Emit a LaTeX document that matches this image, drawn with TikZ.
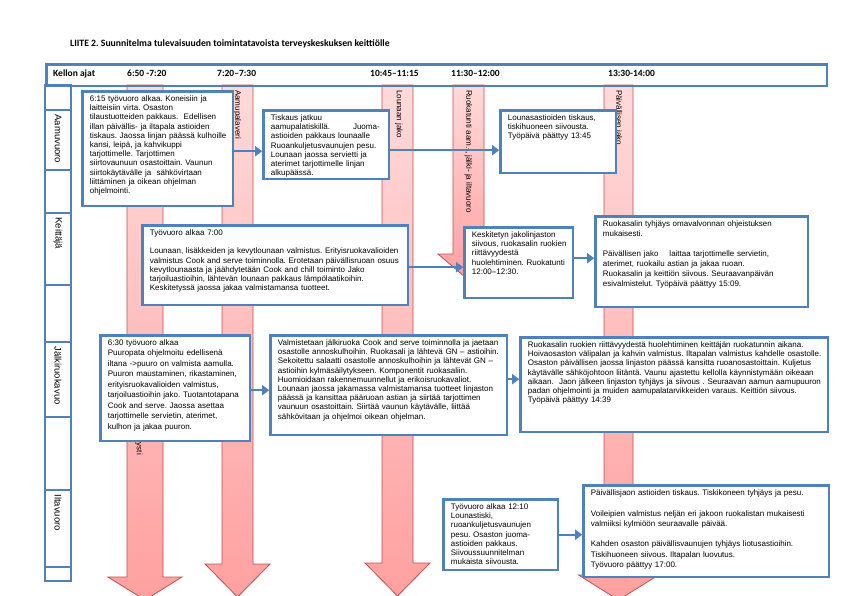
\documentclass[tikz,border=0pt]{standalone}
\usepackage{fontspec}
\setmainfont{Liberation Sans}
\newfontfamily\calibri{Carlito}
\usetikzlibrary{arrows.meta}
\definecolor{boxblue}{RGB}{79,129,189}
\definecolor{arrowred}{RGB}{192,80,77}
\definecolor{pinktop}{RGB}{255,218,218}
\definecolor{pinkbot}{RGB}{255,160,160}
\frenchspacing

\begin{document}
\begin{tikzpicture}[x=1pt, y=-1pt,
    box/.style={draw=boxblue, line width=2.4pt, fill=white, anchor=north west, inner xsep=7.5pt, inner ysep=4pt,
        text height=6pt, font=\fontsize{8}{9.2}\selectfont, execute at begin node={\rightskip=0pt minus 40pt}},
    lane/.style={draw=boxblue, line width=2.4pt, rotate=-90, minimum height=25.6pt, inner xsep=4.5pt, inner ysep=0pt,
        font=\fontsize{9.5}{11}\selectfont},
    colarrow/.style={draw=arrowred, line width=0.8pt, top color=pinktop, bottom color=pinkbot},
    collabel/.style={rotate=-90, anchor=west, inner sep=0pt, font=\fontsize{8}{9}\selectfont},
    hlabel/.style={anchor=base west, inner sep=0pt, font=\calibri\bfseries\fontsize{9.5}{11}\selectfont},
    flow/.style={draw=boxblue, line width=2.4pt, -{Triangle[length=7pt,width=10pt]}}
]
    \useasboundingbox (0,0) rectangle (842,595);
    \clip (0,0) rectangle (842,595);

    % time columns
    \foreach \xl/\xr/\yh/\hw/\yt in {127/163/577/37/600, 222/253/564/32.5/597, 382/413/563/32.5/596,
                                     453/484/254/30.5/280, 604/633/575/40/600}
        \draw[colarrow] (\xl,85) -- (\xr,85) -- (\xr,\yh) -- ({(\xl+\xr)/2+\hw},\yh) -- ({(\xl+\xr)/2},\yt)
            -- ({(\xl+\xr)/2-\hw},\yh) -- (\xl,\yh) -- cycle;

    \node[collabel] (lblpal) at (237.5,90) {Aamupalaveri};
    \node[collabel] (lbllou) at (399,90) {Lounaan jako};
    \node[collabel] (lblruo) at (468.5,90) {Ruokatunti aam.-, jälki- ja iltavuoro};
    \node[collabel] (lblpai) at (618.5,90) {Päivällisen jako};
    \node[collabel, anchor=east] (lblyst) at (139,455) {ysti};

    % title and header
    \node[anchor=base west, inner sep=0pt, font=\calibri\bfseries\fontsize{9.7}{11}\selectfont] (title) at (70,46)
        {LIITE 2. Suunnitelma tulevaisuuden toimintatavoista terveyskeskuksen keittiölle};
    \node[draw=boxblue, line width=2.4pt, minimum width=780.6pt, minimum height=21.6pt, inner sep=0pt,
        anchor=north west] (hdr) at (45.2,63.2) {};
    \node[hlabel] (t0) at (53,76.5) {Kellon ajat};
    \node[hlabel] (t1) at (127,76.5) {6:50 -7:20};
    \node[hlabel] (t2) at (217,76.5) {7:20–7:30};
    \node[hlabel] (t3) at (370,76.5) {10:45–11:15};
    \node[hlabel] (t4) at (451,76.5) {11:30–12:00};
    \node[hlabel] (t5) at (608,76.5) {13:30-14:00};

    % shifts
    \node[lane, minimum width=25pt] (lc1) at (58,97.5) {};
    \node[lane, minimum width=60pt, text width=51pt] (lc2) at (58,140) {Aamuvuoro};
    \node[lane, minimum width=43pt] (lc3) at (58,191.5) {};
    \node[lane, minimum width=72pt, text width=63pt] (lc4) at (58,249) {Keittäjä};
    \node[lane, minimum width=57pt] (lc5) at (58,313.5) {};
    \node[lane, minimum width=75pt, text width=66pt] (lc6) at (58,379.5) {Jälkiruokavuo};
    \node[lane, minimum width=73pt] (lc7) at (58,453.5) {};
    \node[lane, minimum width=77pt, text width=68pt] (lc8) at (58,528.5) {Iltavuoro};
    \node[lane, minimum width=13.8pt] (lc9) at (58,573.9) {};

    % Aamuvuoro
    \node[box, text width=135.6pt, text depth=100.6pt] (am1) at (81.2,90.2)
        {6:15 työvuoro alkaa. Koneisiin ja\\ laitteisiin virta. Osaston\\ tilaustuotteiden pakkaus.\ \ Edellisen\\
         illan päivällis- ja iltapala astioiden\\ tiskaus. Jaossa linjan päässä kulhoille\\ kansi, leipä, ja kahvikuppi\\
         tarjottimelle. Tarjottimen\\ siirtovaunuun osastoittain. Vaunun\\ siirtokäytävälle ja\ \ sähkövirtaan\\
         liittäminen ja oikean ohjelman\\ ohjelmointi.};
    \node[box, text width=110.6pt, text depth=54.6pt] (am2) at (262.2,109.2)
        {Tiskaus jatkuu\\ aamupalatiskillä.\hspace{23pt}Juoma-\\ astioiden pakkaus lounaalle\\ Ruoankuljetusvaunujen pesu.\\
         Lounaan jaossa servietti ja\\ aterimet tarjottimelle linjan\\ alkupäässä.};
    \node[box, text width=100.6pt, text depth=48.6pt] (am3) at (499.2,109.2)
        {Lounasastioiden tiskaus,\\ tiskihuoneen siivousta.\\ Työpäivä päättyy 13:45};

    % Keittäjä
    \node[box, text width=250.6pt, text depth=65.6pt] (ke1) at (141.2,224.2)
        {Työvuoro alkaa 7:00\\[9.2pt]
         Lounaan, lisäkkeiden ja kevytlounaan valmistus. Erityisruokavalioiden\\
         valmistus Cook and serve toiminnolla. Erotetaan päivällisruoan osuus\\
         kevytlounaasta ja jäähdytetään Cook and chill toiminto Jako\\
         tarjoiluastioihin, lähtevän lounaan pakkaus lämpölaatikoihin.\\
         Keskitetyssä jaossa jakaa valmistamansa tuotteet.};
    \node[box, text width=93.6pt, text depth=56.6pt] (ke2) at (463.2,226.2)
        {Keskitetyn jakolinjaston\\ siivous, ruokasalin ruokien\\ riittävyydestä\\ huolehtiminen. Ruokatunti\\ 12:00–12:30.};
    \node[box, text width=197.6pt, text depth=76.6pt, font=\fontsize{8}{10}\selectfont] (ke3) at (594.2,215.2)
        {Ruokasalin tyhjäys omavalvonnan ohjeistuksen\\ mukaisesti.\\[10pt]
         Päivällisen jako\hspace{11pt}laittaa tarjottimelle servietin,\\ aterimet, ruokailu astian ja jakaa ruoan.\\
         Ruokasalin ja keittiön siivous. Seuraavanpäivän\\ esivalmistelut. Työpäivä päättyy 15:09.};

    % Jälkiruokavuoro
    \node[box, text width=134.6pt, text depth=91.6pt, font=\fontsize{8}{10.5}\selectfont] (jr1) at (99.2,334.2)
        {6:30 työvuoro alkaa\\ Puuropata ohjelmoitu edellisenä\\ iltana ->puuro on valmista aamulla.\\
         Puuron maustaminen, rikastaminen,\\ erityisruokavalioiden valmistus,\\ tarjoiluastioihin jako. Tuotantotapana\\
         Cook and serve. Jaossa asettaa\\ tarjottimelle servietin, aterimet,\\ kulhon ja jakaa puuron.};
    \node[box, text width=221.6pt, text depth=85.6pt] (jr2) at (269.2,334.2)
        {Valmistetaan jälkiruoka Cook and serve toiminnolla ja jaetaan\\
         osastolle annoskulhoihin. Ruokasali ja lähtevä GN – astioihin.\\
         Sekoitettu salaatti osastolle annoskulhoihin ja lähtevät GN –\\
         astioihin kylmäsäilytykseen. Komponentit ruokasaliin.\\
         Huomioidaan rakennemuunnellut ja erikoisruokavaliot.\\
         Lounaan jaossa jakamassa valmistamansa tuotteet linjaston\\
         päässä ja kansittaa pääruoan astian ja siirtää tarjottimen\\
         vaunuun osastoittain. Siirtää vaunun käytävälle, liittää\\
         sähkövitaan ja ohjelmoi oikean ohjelman.};
    \node[box, text width=292.6pt, text depth=80.6pt] (jr3) at (519.2,336.2)
        {Ruokasalin ruokien riittävyydestä huolehtiminen keittäjän ruokatunnin aikana.\\
         Hoivaosaston välipalan ja kahvin valmistus. Iltapalan valmistus kahdelle osastolle.\\
         Osaston päivällisen jaossa linjaston päässä kansitta ruoanosastoittain. Kuljetus\\
         käytävälle sähköjohtoon liitäntä. Vaunu ajastettu kellolla käynnistymään oikeaan\\
         aikaan.\ \ Jaon jälkeen linjaston tyhjäys ja siivous . Seuraavan aamun aamupuuron\\
         padan ohjelmointi ja muiden aamupalatarvikkeiden varaus. Keittiön siivous.\\
         Työpäivä päättyy 14:39};

    % Iltavuoro
    \node[box, text width=99.6pt, text depth=56.6pt] (il1) at (442.2,498.2)
        {Työvuoro alkaa 12:10\\ Lounastiski,\\ ruoankuljetusvaunujen\\ pesu. Osaston juoma-\\ astioiden pakkaus.\\
         Siivoussuunnitelman\\ mukaista siivousta.};
    \node[box, text width=230.6pt, text depth=77.6pt, font=\fontsize{8}{10.3}\selectfont] (il2) at (582.2,484.2)
        {Päivällisjaon astioiden tiskaus. Tiskikoneen tyhjäys ja pesu.\\[10.3pt]
         Voileipien valmistus neljän eri jakoon ruokalistan mukaisesti\\ valmiiksi kylmiöön seuraavalle päivää.\\[10.3pt]
         Kahden osaston päivällisvaunujen tyhjäys liotusastioihin.\\ Tiskihuoneen siivous. Iltapalan luovutus.\\
         Työvuoro päättyy 17:00.};

    \draw[flow] ([yshift=-2.5pt]am1.east) -- ([yshift=-2.5pt]am1.east -| am2.west);
    \draw[flow] ([yshift=-5.5pt]am2.east) -- ([yshift=-5.5pt]am2.east -| am3.west);
    \draw[flow] ([yshift=-2pt]ke1.east) -- ([yshift=-2pt]ke1.east -| ke2.west);
    \draw[flow] ([yshift=4.5pt]ke2.east) -- ([yshift=4.5pt]ke2.east -| ke3.west);
    \draw[flow] ([yshift=-2pt]jr1.east) -- ([yshift=-2pt]jr1.east -| jr2.west);
    \draw[flow] ([yshift=6pt]jr2.east) -- ([yshift=6pt]jr2.east -| jr3.west);
    \draw[flow] (il1.east) -- (il1.east -| il2.west);
\end{tikzpicture}
\end{document}
